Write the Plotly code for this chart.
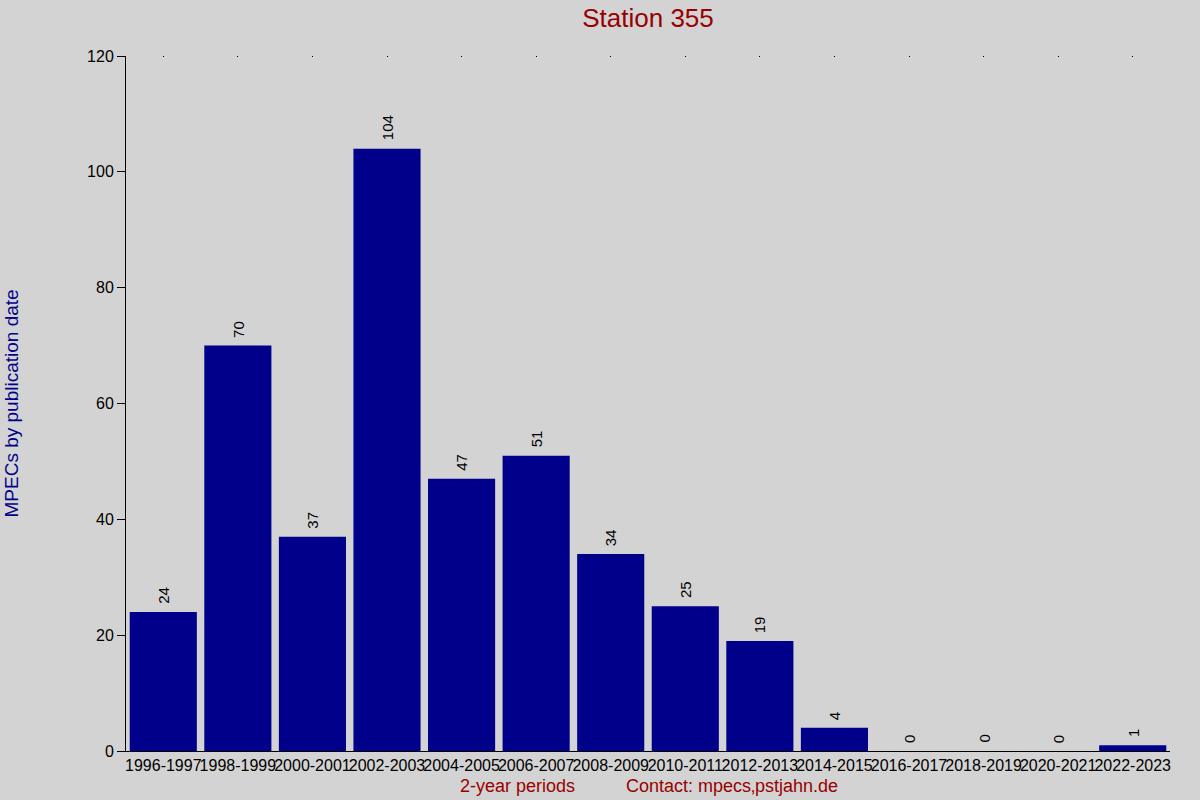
import plotly.graph_objects as go

periods = [
    "1996-1997", "1998-1999", "2000-2001", "2002-2003", "2004-2005",
    "2006-2007", "2008-2009", "2010-2011", "2012-2013", "2014-2015",
    "2016-2017", "2018-2019", "2020-2021", "2022-2023",
]
mpecs = [24, 70, 37, 104, 47, 51, 34, 25, 19, 4, 0, 0, 0, 1]

title_text = "Station 355"
y_title = "MPECs by publication date"
x_title = "2-year periods"
contact = "Contact: mpecs\u201apstjahn.de"

BG = "#d3d3d3"
BAR = "#00008b"
RED = "#990000"
FONT = "Liberation Sans, Arial, sans-serif"

fig = go.Figure()

fig.add_trace(go.Bar(
    x=periods, y=mpecs,
    marker=dict(color=BAR, line=dict(width=0)),
    showlegend=False, hoverinfo="x+y",
))

# empty trace so the top axis (tick dots) gets drawn
fig.add_trace(go.Scatter(x=[None], y=[None], xaxis="x2", mode="markers",
                         showlegend=False, hoverinfo="skip"))

# value labels above the bars, rotated
for p, v in zip(periods, mpecs):
    fig.add_annotation(x=p, y=v, text=str(v), textangle=-90, showarrow=False,
                       xanchor="center", yanchor="bottom", yshift=6,
                       font=dict(size=15, color="black", family=FONT))

W, H = 1200, 800
L, R, T, B = 126, 30, 56, 49

fig.update_layout(
    width=W, height=H,
    paper_bgcolor=BG, plot_bgcolor=BG,
    margin=dict(l=L, r=R, t=T, b=B, autoexpand=False),
    bargap=0.1,
    font=dict(family=FONT, size=16, color="black"),
    title=dict(text=title_text, x=(L + (W - L - R) / 2) / W, xanchor="center",
               y=1 - 18 / H, yanchor="middle",
               font=dict(size=26, color=RED, family=FONT)),
    xaxis=dict(
        range=[-0.5, 13.5], showgrid=False, zeroline=False,
        showline=True, linecolor="black", linewidth=1,
        ticks="", tickangle=0, automargin=False,
        tickfont=dict(size=16, color="black"),
    ),
    # tiny tick dots along the top edge
    xaxis2=dict(
        overlaying="x", side="top", range=[-0.5, 13.5],
        tickmode="array", tickvals=list(range(len(periods))),
        ticks="inside", ticklen=1, tickwidth=1, tickcolor="black",
        showticklabels=False, showline=False, showgrid=False, zeroline=False,
        automargin=False,
    ),
    yaxis=dict(
        range=[0, 120], dtick=20, showgrid=False, zeroline=False,
        showline=True, linecolor="black", linewidth=1, automargin=False,
        ticks="outside", ticklen=8, tickcolor="black", tickwidth=1,
        tickfont=dict(size=16, color="black"),
    ),
)

pw = W - L - R
ph = H - T - B
fig.add_annotation(text=y_title, textangle=-90, xref="paper", yref="paper",
                   x=(11 - L) / pw, y=0.5, xanchor="center", yanchor="middle",
                   showarrow=False, font=dict(size=19, color=BAR))
fig.add_annotation(text=x_title, xref="paper", yref="paper",
                   x=(517 - L) / pw, y=-(786 - T - ph) / ph, xanchor="center",
                   yanchor="middle", showarrow=False,
                   font=dict(size=18, color=RED))
fig.add_annotation(text=contact, xref="paper", yref="paper",
                   x=(732 - L) / pw, y=-(786 - T - ph) / ph, xanchor="center",
                   yanchor="middle", showarrow=False,
                   font=dict(size=18, color=RED))

fig.write_html("out.html", config={"displayModeBar": False},
               post_script="document.body.style.margin='0';")
